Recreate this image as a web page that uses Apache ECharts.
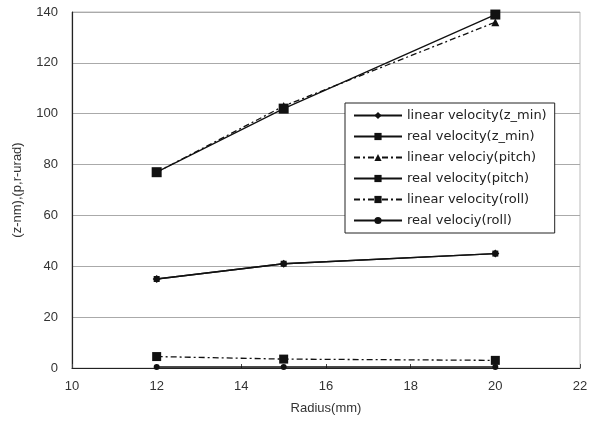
<!DOCTYPE html>
<html><head><meta charset="utf-8">
<script src="https://cdn.jsdelivr.net/npm/echarts@6/dist/echarts.min.js"></script>
<style>html,body{margin:0;padding:0;background:#fff}#c{width:591px;height:430px}</style>
</head><body><div id="c"></div>
<script>
const radius = [12, 15, 20];
const linearZmin = [35, 41, 45];
const realZmin = [35, 41, 45];
const linearPitch = [77, 103, 136];
const realPitch = [77, 102, 139];
const linearRoll = [4.5, 3.5, 3];
const realRoll = [0.4, 0.4, 0.4];
const xTicks = [10, 12, 14, 16, 18, 20, 22];
const yTicks = [0, 20, 40, 60, 80, 100, 120, 140];

const pairs = ys => radius.map((x, i) => [x, ys[i]]);
const font = 'Liberation Sans';
const mk = (name, ys, symbol, size, type) => ({
  name, type: 'line', data: pairs(ys), symbol, symbolSize: size,
  itemStyle: { color: '#111' },
  lineStyle: { color: '#111', width: 1.3, type: type },
  emphasis: { disabled: true }
});
const dashDot = [6, 3, 2, 3];
const chart = echarts.init(document.getElementById('c'), null, { renderer: 'canvas' });
chart.setOption({
  backgroundColor: '#fff',
  animation: false,
  grid: { left: 72, right: 11, top: 12, bottom: 62, show: true, borderColor: '#bbb', borderWidth: 1 },
  xAxis: {
    type: 'value', min: xTicks[0], max: xTicks[xTicks.length - 1], interval: 2,
    name: 'Radius(mm)', nameLocation: 'middle', nameGap: 34,
    nameTextStyle: { fontFamily: font, fontSize: 13, color: '#333' },
    axisLine: { show: true, onZero: false, lineStyle: { color: '#222', width: 1.2 } },
    axisTick: { show: true, inside: true, length: 4, lineStyle: { color: '#444' } },
    axisLabel: { fontFamily: font, fontSize: 13, color: '#333', margin: 12 },
    splitLine: { show: false }
  },
  yAxis: {
    type: 'value', min: yTicks[0], max: yTicks[yTicks.length - 1], interval: 20,
    name: '(z-nm),(p,r-urad)', nameLocation: 'middle', nameGap: 48, nameRotate: 90,
    nameTextStyle: { fontFamily: font, fontSize: 13, color: '#333' },
    axisLine: { show: true, lineStyle: { color: '#222', width: 1.2 } },
    axisTick: { show: false },
    axisLabel: { fontFamily: font, fontSize: 13, color: '#333', margin: 14 },
    splitLine: { show: true, lineStyle: { color: '#aaa', width: 1 } }
  },
  legend: {
    orient: 'vertical', left: 345, top: 103,
    backgroundColor: '#fff', borderColor: '#222', borderWidth: 1,
    padding: [6, 8, 6, 8], itemGap: 8, itemWidth: 48, itemHeight: 9,
    textStyle: { fontFamily: 'DejaVu Sans', fontSize: 13, color: '#222' },
    data: ['linear velocity(z_min)', 'real velocity(z_min)', 'linear velociy(pitch)',
           'real velocity(pitch)', 'linear velocity(roll)', 'real velociy(roll)']
  },
  series: [
    mk('linear velocity(z_min)', linearZmin, 'diamond', 8, 'solid'),
    mk('real velocity(z_min)', realZmin, 'rect', 6, 'solid'),
    mk('linear velociy(pitch)', linearPitch, 'triangle', 8, dashDot),
    mk('real velocity(pitch)', realPitch, 'rect', 10, 'solid'),
    mk('linear velocity(roll)', linearRoll, 'rect', 9, dashDot),
    mk('real velociy(roll)', realRoll, 'circle', 6, 'solid')
  ]
});
</script></body></html>
